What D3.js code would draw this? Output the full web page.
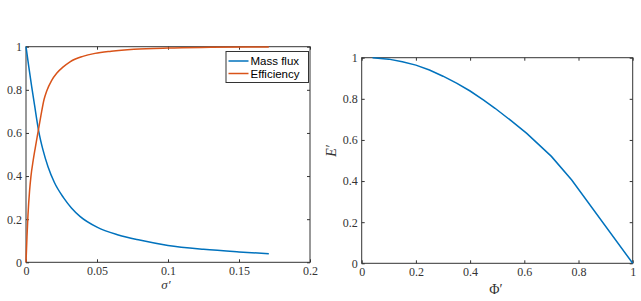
<!DOCTYPE html>
<html>
<head>
<meta charset="utf-8">
<script src="https://cdn.jsdelivr.net/npm/d3@7"></script>
<style>
  body { margin: 0; background: #fff; }
  svg { display: block; }
</style>
</head>
<body>
<svg width="641" height="301"></svg>
<script>
// left panel: mass flux and efficiency against sigma'
const sigmaFlux = [0, 0.002, 0.004, 0.006, 0.0089, 0.012, 0.0155, 0.02, 0.0264, 0.032, 0.038, 0.05, 0.065, 0.08, 0.1, 0.125, 0.15, 0.171];
const massFlux = [1, 0.905, 0.815, 0.73, 0.61, 0.52, 0.443, 0.37, 0.3, 0.252, 0.213, 0.163, 0.127, 0.103, 0.078, 0.06, 0.048, 0.04];

const sigmaEff = [0, 0.0007, 0.0014, 0.0025, 0.0035, 0.005, 0.0065, 0.0085, 0.0105, 0.0127, 0.0146, 0.018, 0.0216, 0.026, 0.031, 0.04, 0.0486, 0.06, 0.076, 0.1, 0.13, 0.171];
const efficiency = [0, 0.12, 0.22, 0.33, 0.4, 0.47, 0.53, 0.605, 0.68, 0.755, 0.795, 0.843, 0.877, 0.905, 0.93, 0.955, 0.969, 0.979, 0.988, 0.994, 0.997, 0.999];

// right panel: E' against Phi'
const phi = [0.04, 0.1, 0.15, 0.2, 0.25, 0.3, 0.35, 0.4, 0.45, 0.492, 0.55, 0.609, 0.7, 0.775, 1.0];
const eprime = [1.0, 0.993, 0.98, 0.964, 0.94, 0.91, 0.876, 0.838, 0.794, 0.754, 0.695, 0.632, 0.52, 0.405, 0];

const leftXTicks = [0, 0.05, 0.1, 0.15, 0.2];
const yTicks = [0, 0.2, 0.4, 0.6, 0.8, 1];
const rightXTicks = [0, 0.2, 0.4, 0.6, 0.8, 1];
const legendNames = ["Mass flux", "Efficiency"];

const blue = "#0072BD";
const orange = "#D95319";
const axisColor = "#333";
const tickFont = "'Liberation Serif', serif";
const tickLen = 3;

const svg = d3.select("svg");

function drawFrame(x, y, xt, yt) {
  const [x0, x1] = x.range();
  const [y0, y1] = y.range();
  const g = svg.append("g");

  g.append("rect")
    .attr("x", x0).attr("y", y1)
    .attr("width", x1 - x0).attr("height", y0 - y1)
    .attr("fill", "none").attr("stroke", axisColor).attr("stroke-width", 1);

  const bottom = g.append("g").attr("transform", `translate(0,${y0})`)
    .call(d3.axisBottom(x).tickValues(xt).tickFormat(String).tickSize(-tickLen).tickPadding(4));
  const top = g.append("g").attr("transform", `translate(0,${y1})`)
    .call(d3.axisTop(x).tickValues(xt).tickFormat("").tickSize(-tickLen));
  const left = g.append("g").attr("transform", `translate(${x0},0)`)
    .call(d3.axisLeft(y).tickValues(yt).tickFormat(String).tickSize(-tickLen).tickPadding(4));
  const right = g.append("g").attr("transform", `translate(${x1},0)`)
    .call(d3.axisRight(y).tickValues(yt).tickFormat("").tickSize(-tickLen));

  [bottom, top, left, right].forEach(a => {
    a.select(".domain").remove();
    a.selectAll("line").attr("stroke", axisColor);
    a.selectAll("text").attr("fill", axisColor)
      .style("font-family", tickFont).style("font-size", "12px");
  });
}

// ---- left chart
const xL = d3.scaleLinear().domain([0, 0.2]).range([26, 310]);
const yL = d3.scaleLinear().domain([0, 1]).range([262.3, 46.7]);
drawFrame(xL, yL, leftXTicks, yTicks);

const curveL = d3.line().curve(d3.curveMonotoneX);

svg.append("path")
  .attr("d", curveL(sigmaFlux.map((s, i) => [xL(s), yL(massFlux[i])])))
  .attr("fill", "none").attr("stroke", blue).attr("stroke-width", 1.5);

svg.append("path")
  .attr("d", curveL(sigmaEff.map((s, i) => [xL(s), yL(efficiency[i])])))
  .attr("fill", "none").attr("stroke", orange).attr("stroke-width", 1.5);

// legend
const legend = svg.append("g").attr("transform", "translate(226,51.5)");
legend.append("rect")
  .attr("width", 82.5).attr("height", 31)
  .attr("fill", "#fff").attr("stroke", axisColor).attr("stroke-width", 1);
legendNames.forEach((name, i) => {
  const yy = 9.5 + i * 12.5;
  legend.append("line")
    .attr("x1", 2.5).attr("x2", 22.5).attr("y1", yy).attr("y2", yy)
    .attr("stroke", i === 0 ? blue : orange).attr("stroke-width", 1.5);
  legend.append("text")
    .attr("x", 24.5).attr("y", yy).attr("dy", "0.35em")
    .style("font-family", "'Liberation Sans', Arial, sans-serif")
    .style("font-size", "11.5px").attr("fill", "#000")
    .text(name);
});

svg.append("text")
  .attr("x", 166).attr("y", 288.5)
  .attr("text-anchor", "middle")
  .style("font-family", tickFont).style("font-size", "13px")
  .style("font-style", "italic").attr("fill", axisColor)
  .text("σ′");

// ---- right chart
const xR = d3.scaleLinear().domain([0, 1]).range([361.7, 632.7]);
const yR = d3.scaleLinear().domain([0, 1]).range([263.3, 57.7]);
drawFrame(xR, yR, rightXTicks, yTicks);

svg.append("path")
  .attr("d", d3.line()(phi.map((p, i) => [xR(p), yR(eprime[i])])))
  .attr("fill", "none").attr("stroke", blue).attr("stroke-width", 1.5);

svg.append("text")
  .attr("x", 496).attr("y", 294)
  .attr("text-anchor", "middle")
  .style("font-family", tickFont).style("font-size", "14px")
  .attr("fill", axisColor)
  .text("Φ′");

svg.append("text")
  .attr("transform", "translate(336,151) rotate(-90)")
  .attr("text-anchor", "middle")
  .style("font-family", tickFont).style("font-size", "14px")
  .style("font-style", "italic").attr("fill", axisColor)
  .text("E′");
</script>
</body>
</html>
